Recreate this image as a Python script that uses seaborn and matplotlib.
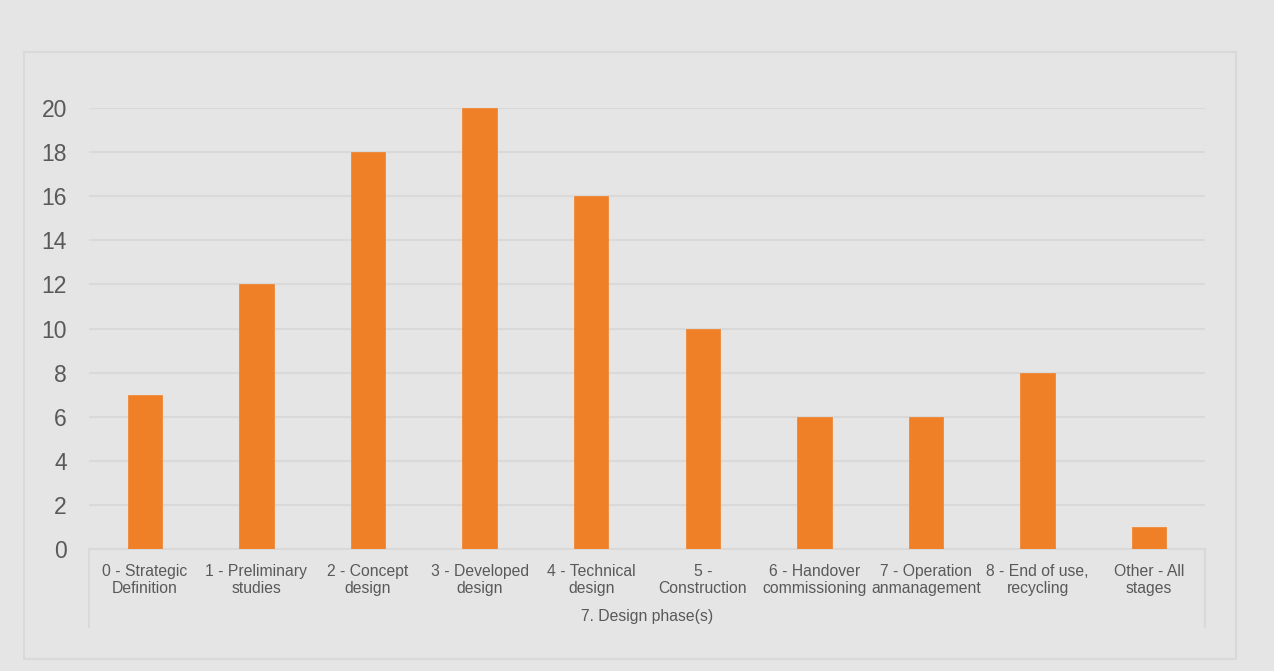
import matplotlib
matplotlib.use("Agg")
import matplotlib.pyplot as plt
from matplotlib.patches import Rectangle
from matplotlib.lines import Line2D
import seaborn as sns
import pandas as pd

phases = [
    "0 - Strategic\nDefinition",
    "1 - Preliminary\nstudies",
    "2 - Concept\ndesign",
    "3 - Developed\ndesign",
    "4 - Technical\ndesign",
    "5 -\nConstruction",
    "6 - Handover\ncommissioning",
    "7 - Operation\nanmanagement",
    "8 - End of use,\nrecycling",
    "Other - All\nstages",
]
counts = [7, 12, 18, 20, 16, 10, 6, 6, 8, 1]
y_ticks = [0, 2, 4, 6, 8, 10, 12, 14, 16, 18, 20]
axis_title = "7. Design phase(s)"

bg = "#e5e5e5"
grid = "#d9d9d9"
text = "#595959"
bar_color = "#f08028"

sns.set_theme(style="white")
plt.rcParams["font.family"] = ["Liberation Sans", "DejaVu Sans"]

W, H = 1274, 671
fig = plt.figure(figsize=(W / 100, H / 100), dpi=100, facecolor=bg)

# chart frame
fig.patches.append(Rectangle((24 / W, 1 - 659 / H), (1236 - 24) / W, (659 - 52) / H,
                             transform=fig.transFigure, fill=False,
                             edgecolor=grid, linewidth=1.5))

left, right, bottom, top = 89 / W, 1205 / W, 1 - 549 / H, 1 - 108 / H
ax = fig.add_axes([left, bottom, right - left, top - bottom], facecolor=bg)

df = pd.DataFrame({"phase": phases, "count": counts})
sns.barplot(data=df, x="phase", y="count", color=bar_color, saturation=1,
            width=0.31, ax=ax, zorder=3, edgecolor=bar_color, linewidth=0.5)

ax.set_ylim(0, 20)
ax.set_xlim(-0.5, len(phases) - 0.5)
ax.set_yticks(y_ticks)
ax.set_yticklabels([str(v) for v in y_ticks], fontsize=16.5, color=text)
ax.tick_params(axis="y", length=0, pad=16)
ax.tick_params(axis="x", length=0, pad=10.5)
for lbl in ax.get_xticklabels():
    lbl.set_fontsize(11.3)
    lbl.set_color(text)
    lbl.set_linespacing(1.2)
    lbl.set_ha("center")

ax.yaxis.grid(True, color=grid, linewidth=1.5, zorder=0)
ax.set_axisbelow(True)
for s in ("top", "left", "right"):
    ax.spines[s].set_visible(False)
ax.spines["bottom"].set_color(grid)
ax.spines["bottom"].set_linewidth(1.5)
ax.set_xlabel("")
ax.set_ylabel("")

# category axis box edges
drop = (627 - 549) / (549 - 108)
for xa in (0, 1):
    ax.add_line(Line2D([xa, xa], [0, -drop], transform=ax.transAxes,
                       color=grid, linewidth=1.5, clip_on=False))

ax.text(0.5, -(616 - 549) / (549 - 108), axis_title, transform=ax.transAxes,
        ha="center", va="center", fontsize=11.3, color=text)

fig.savefig("out.png", dpi=100, facecolor=bg)
